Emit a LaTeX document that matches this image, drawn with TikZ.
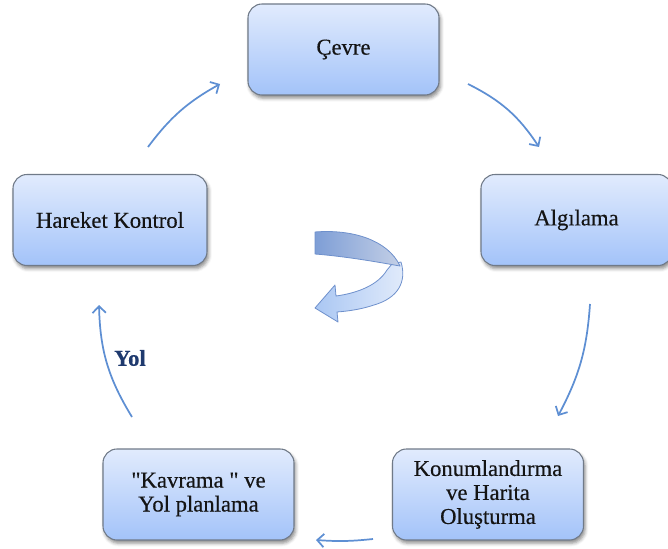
\documentclass[tikz,border=0pt]{standalone}
\usepackage{fontspec}
\setmainfont{Liberation Serif}[Ligatures=TeXOff, FakeBold=0.4]
\usetikzlibrary{arrows.meta,shadows.blur}

\definecolor{boxtop}{HTML}{E1EBFD}
\definecolor{boxbot}{HTML}{A3C3F9}
\definecolor{boxedge}{HTML}{707A88}
\definecolor{flow}{HTML}{5E8FD3}
\definecolor{labelblue}{HTML}{1F3A6E}
\definecolor{ribbonedge}{HTML}{6E90CC}
\definecolor{backdark}{HTML}{7E9ED6}
\definecolor{backlight}{HTML}{C3CFE6}
\definecolor{frontdark}{HTML}{AAC7F3}
\definecolor{frontlight}{HTML}{E3ECFB}

\begin{document}
\begin{tikzpicture}[x=0.75pt,y=0.75pt,
  stage/.style={rectangle, rounded corners=10.5pt,
    minimum width=143.25pt, minimum height=68.25pt,
    draw=boxedge, line width=0.8pt,
    top color=boxtop, bottom color=boxbot,
    blur shadow={shadow xshift=1.2pt, shadow yshift=-2.4pt,
      shadow blur radius=2.5pt, shadow opacity=45},
    align=center, inner sep=0pt, text=black!92,
    font=\fontsize{17}{18}\selectfont},
  flowarrow/.style={draw=flow, line width=1.3pt,
    -{Straight Barb[length=5pt,width=10pt,line width=1.3pt]}},
  ribbon/.style={draw=ribbonedge, line width=0.6pt, line join=round}]

\useasboundingbox (0,0) rectangle (668,-549);
\clip (0,0) rectangle (668,-549);

% stages of the cycle
\node[stage] (cevre) at (343.5,-49.5) {Çevre};
\node[stage] (alg)   at (576.5,-220)  {Algılama};
\node[stage, minimum width=145.5pt] (hk) at (110,-220) {Hareket Kontrol};
\node[stage] (kon)   at (488,-494.5)  {Konumlandırma\\ve Harita\\Oluşturma};
\node[stage] (kav)   at (198.5,-494.5) {"Kavrama "\ ve\\Yol planlama};

% free ends of the connectors between the stages
\coordinate (a1s) at (148,-147); \coordinate (a1e) at (220,-84);
\coordinate (a2s) at (468,-84);  \coordinate (a2e) at (539,-147);
\coordinate (a3s) at (590,-304); \coordinate (a3e) at (558,-416);
\coordinate (a4s) at (373,-539); \coordinate (a4e) at (316,-540);
\coordinate (a5s) at (132,-417); \coordinate (a5e) at (99,-305);

\draw[flowarrow] (a1s) to[bend left=12] (a1e);
\draw[flowarrow] (a2s) to[bend left=15] (a2e);
\draw[flowarrow] (a3s) to[bend left=12] (a3e);
\draw[flowarrow] (a4s) to[bend left=5]  (a4e);
\draw[flowarrow] (a5s) to[bend left=15] (a5e);

\node[font=\fontsize{17}{18}\selectfont\bfseries, text=labelblue] (yol) at (130,-358) {Yol};

% curved ribbon arrow in the middle
\begin{scope}[yscale=-1]
  % front face, ending in the arrow head
  \path[ribbon, left color=frontdark, right color=frontlight]
    (401,262) .. controls (407,282) and (398,298) .. (374,305)
    .. controls (362,309) and (350,311) .. (337,312)
    -- (338,322) -- (315,308) -- (335,285) -- (336,296)
    .. controls (358,293) and (378,285) .. (387,270)
    -- (392,264) -- cycle;
  % back face, from the tail
  \path[ribbon, left color=backdark, right color=backlight]
    (315,232) .. controls (352,229) and (388,240) .. (400,266)
    .. controls (388,264) and (352,257) .. (315,254) -- cycle;
\end{scope}
\end{tikzpicture}
\end{document}
